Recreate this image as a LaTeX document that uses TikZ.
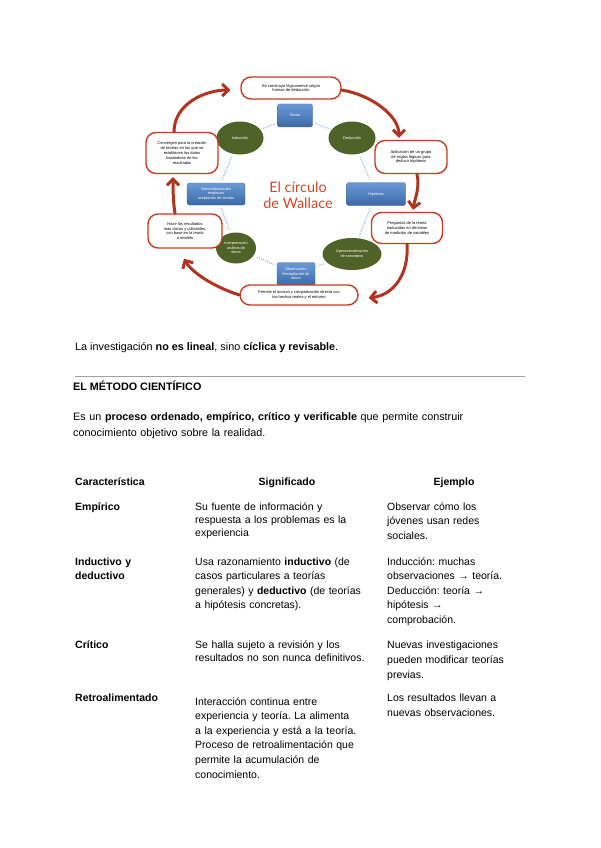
\documentclass[tikz,border=0pt]{standalone}
\usepackage{fontspec}
\setmainfont{Liberation Sans}
\newfontfamily\titlefont{Lato}
\usetikzlibrary{shapes.geometric,arrows.meta}
\frenchspacing
\definecolor{boxbluetop}{HTML}{6A9AD6}
\definecolor{boxbluebot}{HTML}{3C69A6}
\definecolor{ovgreen}{HTML}{4F6228}
\definecolor{balred}{HTML}{C83C22}
\definecolor{arrred}{HTML}{B0341F}
\definecolor{dotblue}{HTML}{8EB4E3}
\definecolor{titred}{HTML}{D4472C}
\definecolor{rulegray}{HTML}{A0A0A0}
\tikzset{
  bluebox/.style={rectangle, rounded corners=1.5pt, top color=boxbluetop, bottom color=boxbluebot,
    draw=boxbluebot, line width=0.3pt, text=white, font=\fontsize{3.8}{4.5}\selectfont, align=center, inner sep=0.5pt},
  greenov/.style={ellipse, fill=ovgreen, text=white, font=\fontsize{3.8}{4.5}\selectfont, align=center, inner sep=0pt},
  balloon/.style={rectangle, rounded corners=10pt, draw=balred, line width=1.4pt, fill=white,
    font=\fontsize{4}{4.8}\selectfont, align=center, inner sep=1pt},
  bigarrow/.style={draw=arrred, line width=3pt, line cap=round, -{Straight Barb[length=6pt,width=12pt]}},
  dotconn/.style={draw=dotblue, line width=1.1pt, dash pattern=on 1pt off 1.2pt, shorten >=3pt, shorten <=3pt},
  bodytext/.style={font=\fontsize{10.5}{14.5}\selectfont, inner sep=0pt, anchor=base west, align=left},
  tight/.style={font=\fontsize{10.5}{13.3}\selectfont},
  hdr/.style={font=\fontsize{10.5}{14.5}\selectfont\bfseries, inner sep=0pt, anchor=base},
}
\begin{document}
\begin{tikzpicture}[x=1pt,y=-1pt]
\useasboundingbox[fill=white] (0,0) rectangle (600,848);

% ---- diagram nodes ----
\node[bluebox, minimum width=35pt, minimum height=23pt] (teoria) at (295,115.5) {Teoría};
\node[greenov, minimum width=47pt, minimum height=33pt] (deduccion) at (352,138) {Deducción};
\node[bluebox, minimum width=59pt, minimum height=23pt] (hipotesis) at (376,194) {Hipótesis};
\node[greenov, minimum width=59pt, minimum height=32pt] (operac) at (352,254) {Operacionalización\\de conceptos};
\node[bluebox, minimum width=38pt, minimum height=23pt] (observ) at (296,274) {Observación\\Recopilación de\\datos};
\node[greenov, minimum width=40pt, minimum height=31pt] (interp) at (236,248) {Interpretación\\análisis de\\datos};
\node[bluebox, minimum width=58pt, minimum height=22pt] (generaliz) at (216,194) {Generalizaciones\\empíricas\\aceptación de teorías};
\node[greenov, minimum width=47pt, minimum height=33pt] (induccion) at (240,138) {Inducción};

\node[font=\titlefont\fontsize{14.5}{16}\selectfont, text=titred, align=center, inner sep=0pt] (titulo) at (298,195) {El círculo\\de Wallace};

\draw[dotconn] (teoria) -- (deduccion);
\draw[dotconn] (deduccion) -- (hipotesis);
\draw[dotconn] (hipotesis) -- (operac);
\draw[dotconn] (operac) -- (observ);
\draw[dotconn] (observ) -- (interp);
\draw[dotconn] (interp) -- (generaliz);
\draw[dotconn] (generaliz) -- (induccion);
\draw[dotconn] (induccion) -- (teoria);

% ---- balloons ----
\node[balloon, minimum width=100pt, minimum height=22pt] (btop) at (291,88) {Se construye lógicamente según\\formas de deducción};
\node[balloon, minimum width=72pt, minimum height=33pt] (bru) at (411,157) {Aplicación de un grupo\\de reglas lógicas para\\deducir hipótesis};
\node[balloon, minimum width=71pt, minimum height=31pt] (brl) at (407,228) {Preguntas de la teoría\\traducidas en términos\\de medición de variables};
\node[balloon, minimum width=118pt, minimum height=20pt] (bbot) at (299,295) {Permite el acceso y comprobación directa con\\los hechos reales y el entorno};
\node[balloon, minimum width=74pt, minimum height=34pt] (bll) at (185,231) {Hace los resultados\\más claros y utilizables,\\con base en la teoría\\o modelo};
\node[balloon, minimum width=72pt, minimum height=41pt] (blu) at (182,153) {Convergen para la creación\\de teorías en las que se\\establecen los datos\\basándose en los\\resultados};

% ---- big cycle arrows ----
\draw[bigarrow] ([xshift=-8pt]blu.north) .. controls +(0,-28) and +(-25,0) .. ([xshift=-10pt,yshift=-2pt]btop.west);
\draw[bigarrow] ([yshift=-2pt]btop.east) .. controls +(30,5) and +(0,-22) .. ([xshift=-12pt,yshift=2pt]bru.north);
\draw[bigarrow] ([xshift=6pt]bru.south) .. controls +(3,14) and +(2,-12) .. ([xshift=6pt,yshift=2pt]brl.north);
\draw[bigarrow] (brl.south) .. controls +(2,30) and +(25,-3) .. ([xshift=10pt,yshift=-3pt]bbot.east);
\draw[bigarrow] (bbot.west) .. controls +(-25,-8) and +(8,14) .. ([xshift=-1pt,yshift=-10pt]bll.south);
\draw[bigarrow] ([xshift=-10pt]bll.north) .. controls +(-2,-12) and +(0,10) .. ([xshift=-9pt,yshift=-3pt]blu.south);

% ---- body text ----
\node[bodytext, font=\fontsize{10.8}{14.5}\selectfont] (frase) at (75,350) {La investigación \textbf{no es lineal}, sino \textbf{cíclica y revisable}.};
\coordinate (rl) at (75,376);
\coordinate (rr) at (525,376);
\draw[rulegray, line width=1pt] (rl) -- (rr);
\node[bodytext, font=\fontsize{10.8}{14.5}\selectfont\bfseries] (metodo) at (73,390) {EL MÉTODO CIENTÍFICO};
\node[bodytext, text width=470pt, font=\fontsize{10.8}{16}\selectfont] (def) at (73,420) {Es un \textbf{proceso ordenado, empírico, crítico y verificable} que permite construir\\conocimiento objetivo sobre la realidad.};

% ---- table ----
\node[bodytext, font=\fontsize{10.5}{14.5}\selectfont\bfseries] (h1) at (75,485) {Característica};
\node[hdr] (h2) at (287,485) {Significado};
\node[hdr] (h3) at (454,485) {Ejemplo};

\node[bodytext, font=\fontsize{10.5}{14.5}\selectfont\bfseries] (c11) at (75,510) {Empírico};
\node[bodytext, tight, text width=180pt] (c12) at (195,510) {Su fuente de información y\\respuesta a los problemas es la\\experiencia};
\node[bodytext, text width=150pt] (c13) at (387,510) {Observar cómo los\\jóvenes usan redes\\sociales.};

\node[bodytext, text width=110pt, font=\fontsize{10.5}{14}\selectfont\bfseries] (c21) at (75,565) {Inductivo y\\deductivo};
\node[bodytext, text width=180pt] (c22) at (195,565) {Usa razonamiento \textbf{inductivo} (de\\casos particulares a teorías\\generales) y \textbf{deductivo} (de teorías\\a hipótesis concretas).};
\node[bodytext, text width=150pt] (c23) at (387,565) {Inducción: muchas\\observaciones → teoría.\\Deducción: teoría →\\hipótesis →\\comprobación.};

\node[bodytext, font=\fontsize{10.5}{14.5}\selectfont\bfseries] (c31) at (75,648) {Crítico};
\node[bodytext, tight, text width=180pt] (c32) at (195,648) {Se halla sujeto a revisión y los\\resultados no son nunca definitivos.};
\node[bodytext, text width=150pt, font=\fontsize{10.5}{15}\selectfont] (c33) at (387,648) {Nuevas investigaciones\\pueden modificar teorías\\previas.};

\node[bodytext, font=\fontsize{10.5}{14.5}\selectfont\bfseries] (c41) at (75,701) {Retroalimentado};
\node[bodytext, text width=180pt, font=\fontsize{10.5}{14.6}\selectfont] (c42) at (195,705) {Interacción continua entre\\experiencia y teoría. La alimenta\\a la experiencia y está a la teoría.\\Proceso de retroalimentación que\\permite la acumulación de\\conocimiento.};
\node[bodytext, text width=150pt, font=\fontsize{10.5}{15}\selectfont] (c43) at (387,701) {Los resultados llevan a\\nuevas observaciones.};
\end{tikzpicture}
\end{document}
